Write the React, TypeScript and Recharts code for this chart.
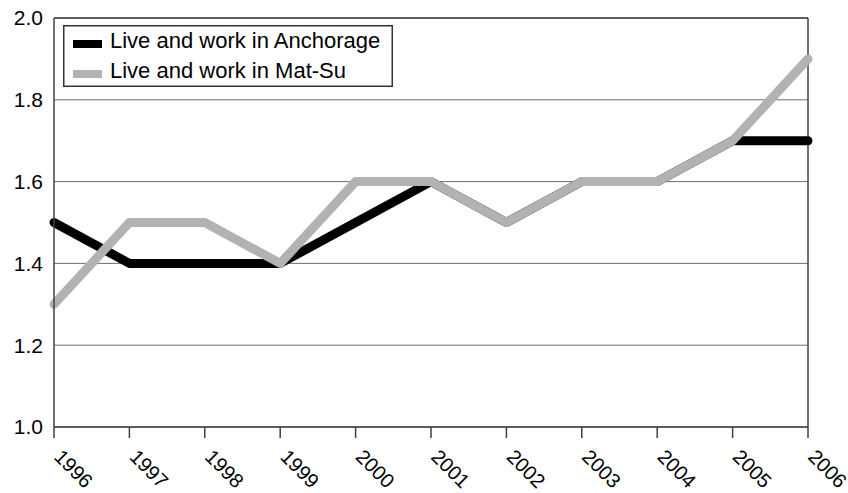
import React from "react";
import {
  LineChart,
  Line,
  XAxis,
  YAxis,
  CartesianGrid,
  ReferenceLine,
  Legend,
} from "recharts";

const years = ["1996", "1997", "1998", "1999", "2000", "2001", "2002", "2003", "2004", "2005", "2006"];
const anchorage = [1.5, 1.4, 1.4, 1.4, 1.5, 1.6, 1.5, 1.6, 1.6, 1.7, 1.7];
const matSu = [1.3, 1.5, 1.5, 1.4, 1.6, 1.6, 1.5, 1.6, 1.6, 1.7, 1.9];
const yTicks = [1.0, 1.2, 1.4, 1.6, 1.8, 2.0];
const seriesNames = ["Live and work in Anchorage", "Live and work in Mat-Su"];

const data = years.map((year, i) => ({ year, anchorage: anchorage[i], matSu: matSu[i] }));

const FONT = "'Liberation Sans', Arial, sans-serif";
const AXIS = "#404040";

function YearTick({ x, y, payload }: any) {
  const tx = x - 1;
  const ty = y + 18;
  return (
    <text
      x={tx}
      y={ty}
      transform={`rotate(45 ${tx} ${ty})`}
      textAnchor="start"
      fontSize={20}
      fontFamily={FONT}
      fill="#000"
    >
      {payload.value}
    </text>
  );
}

function LegendBox({ payload }: any) {
  const items = payload || [];
  return (
    <svg width={330} height={62} style={{ display: "block" }}>
      <rect x={0.75} y={0.75} width={328.5} height={60.5} fill="#fff" stroke="#333" strokeWidth={1.5} />
      {items.map((item: any, i: number) => (
        <g key={item.value}>
          <rect x={10} y={15 + i * 30} width={29} height={8} fill={item.color} />
          <text x={47} y={23 + i * 30} fontSize={22} fontFamily={FONT} fill="#000">
            {item.value}
          </text>
        </g>
      ))}
    </svg>
  );
}

export default function App() {
  return (
    <div style={{ position: "absolute", left: 0, top: 0, background: "#fff" }}>
      <LineChart width={848} height={493} data={data} margin={{ top: 18, right: 40, bottom: 0, left: 0 }}>
        <CartesianGrid vertical={false} stroke="#6e6e6e" strokeWidth={1} />
        <XAxis
          dataKey="year"
          interval={0}
          height={66}
          tick={<YearTick />}
          tickSize={11}
          tickMargin={2}
          stroke={AXIS}
          strokeWidth={1.5}
          padding={{ left: 0, right: 0 }}
        />
        <YAxis
          domain={[1, 2]}
          ticks={yTicks}
          width={54}
          tickLine={false}
          tickMargin={5}
          tickFormatter={(v: number) => v.toFixed(1)}
          tick={{ fontSize: 21, fontFamily: FONT, fill: "#000" }}
          stroke={AXIS}
          strokeWidth={1.5}
        />
        <ReferenceLine y={2} stroke={AXIS} strokeWidth={1.5} />
        <ReferenceLine x="2006" stroke={AXIS} strokeWidth={1.5} />
        <Line
          type="linear"
          dataKey="anchorage"
          name={seriesNames[0]}
          stroke="#000"
          strokeWidth={9}
          strokeLinecap="round"
          strokeLinejoin="round"
          dot={false}
          isAnimationActive={false}
        />
        <Line
          type="linear"
          dataKey="matSu"
          name={seriesNames[1]}
          stroke="#b2b2b2"
          strokeWidth={9}
          strokeLinecap="round"
          strokeLinejoin="round"
          dot={false}
          isAnimationActive={false}
        />
        <Legend
          layout="vertical"
          align="center"
          verticalAlign="middle"
          content={<LegendBox />}
          wrapperStyle={{ position: "absolute", left: 63, top: 25, width: 330, height: 62 }}
        />
      </LineChart>
    </div>
  );
}
